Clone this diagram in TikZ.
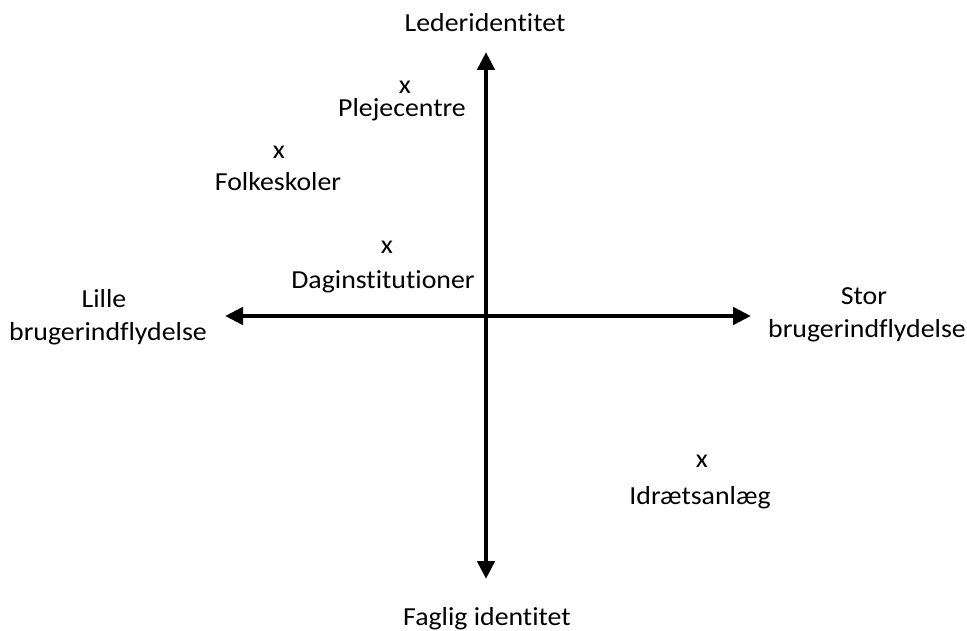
\documentclass[tikz,border=0pt]{standalone}
\usepackage{fontspec}
\setmainfont{Carlito}[Ligatures={NoCommon},FakeStretch=1.07]
\usetikzlibrary{arrows.meta}
\begin{document}
\begin{tikzpicture}[x=1pt,y=-1pt,
  lbl/.style={anchor=base,inner sep=0pt,font=\fontsize{26}{32}\selectfont},
  axis/.style={line width=4.5pt,-{Triangle[width=17pt,length=18pt]}}]
\useasboundingbox (0,0) rectangle (967,631);
% axis end points
\coordinate (top) at (486,52);
\coordinate (bot) at (486,579);
\coordinate (lft) at (225,316);
\coordinate (rgt) at (751,316);
\coordinate (ctr) at (486,316);
\draw[axis] (ctr) -- (top);
\draw[axis] (ctr) -- (bot);
\draw[axis] (ctr) -- (lft);
\draw[axis] (ctr) -- (rgt);
% axis labels
\node[lbl] (leder) at (485,32) {Lederidentitet};
\node[lbl] (faglig) at (487,625) {Faglig identitet};
\node[lbl] (lille1) at (104,308) {Lille};
\node[lbl] (lille2) at (108,340) {brugerindflydelse};
\node[lbl] (stor1) at (864,305) {Stor};
\node[lbl] (stor2) at (867,337) {brugerindflydelse};
% marks
\node[lbl] (xp) at (405,94) {x};
\node[lbl] (plej) at (402,117) {Plejecentre};
\node[lbl] (xf) at (279,159) {x};
\node[lbl] (folk) at (278,191) {Folkeskoler};
\node[lbl] (xd) at (387,254) {x};
\node[lbl] (dag) at (383,288) {Daginstitutioner};
\node[lbl] (xi) at (702,467) {x};
\node[lbl] (idr) at (700,504) {Idrætsanlæg};
\end{tikzpicture}
\end{document}
